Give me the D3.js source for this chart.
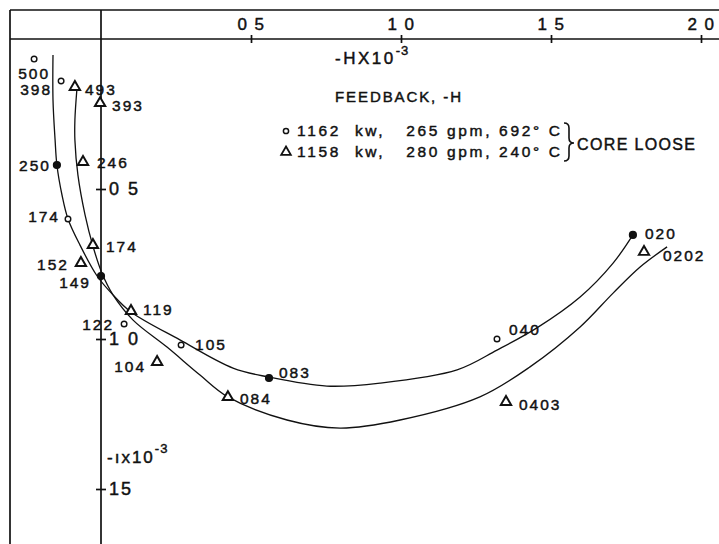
<!DOCTYPE html>
<html>
<head>
<meta charset="utf-8">
<script src="https://cdn.jsdelivr.net/npm/d3@7"></script>
<style>
  html, body { margin: 0; padding: 0; background: #fff; }
  svg { display: block; }
  text { font-family: "Liberation Sans", Arial, sans-serif; fill: #111; stroke: #111; stroke-width: 0.45px; white-space: pre; }
</style>
</head>
<body>
<svg id="chart" width="719" height="544"></svg>
<script>
// Real part of -H (x 10^-3) along the top axis, imaginary part downward.
const xTicks = [0.5, 1.0, 1.5, 2.0];
const xTickLabels = ["0 5", "1 0", "1 5", "2 0"];
const yTicks = [0.5, 1.0, 1.5];
const yTickLabels = ["0 5", "1 0", "15"];

// 1162 kw, 265 gpm, 692 C — measured points (label = frequency)
const loLabels = ["500", "398", "250", "174", "149", "122", "105", "083", "040", "020"];
const loRe = [-0.223, -0.133, -0.147, -0.110, 0.000, 0.077, 0.267, 0.560, 1.320, 1.773];
const loIm = [0.067, 0.140, 0.420, 0.600, 0.790, 0.950, 1.020, 1.130, 1.000, 0.653];

// 1158 kw, 280 gpm, 240 C — measured points
const hiLabels = ["493", "393", "246", "174", "152", "119", "104", "084", "0403", "0202"];
const hiRe = [-0.087, -0.003, -0.060, -0.027, -0.067, 0.100, 0.187, 0.423, 1.350, 1.810];
const hiIm = [0.163, 0.217, 0.413, 0.690, 0.750, 0.910, 1.080, 1.197, 1.213, 0.713];

// Faired curves drawn through each set of points
const loCurveRe = [-0.160, -0.160, -0.153, -0.147, -0.130, -0.110, -0.070, -0.013, 0.040, 0.100, 0.263, 0.440, 0.560, 0.753, 0.930, 1.187, 1.320, 1.453, 1.597, 1.707, 1.773];
const loCurveIm = [0.053, 0.203, 0.337, 0.420, 0.520, 0.600, 0.687, 0.790, 0.853, 0.910, 1.003, 1.097, 1.127, 1.157, 1.147, 1.103, 1.037, 0.963, 0.860, 0.747, 0.653];
const hiCurveRe = [-0.080, -0.087, -0.087, -0.077, -0.053, -0.027, 0.003, 0.040, 0.107, 0.220, 0.330, 0.423, 0.620, 0.797, 0.997, 1.263, 1.430, 1.597, 1.707, 1.797, 1.887];
const hiCurveIm = [0.163, 0.270, 0.337, 0.453, 0.587, 0.690, 0.780, 0.853, 0.937, 1.027, 1.120, 1.193, 1.270, 1.297, 1.270, 1.193, 1.093, 0.960, 0.847, 0.760, 0.693];

const legendRows = ["1162  kw,   265 gpm, 692° C", "1158  kw,   280 gpm, 240° C"];

// point-label offsets (px) relative to each marker: [dx, dy, anchor]
const loLabelPos = [[0, 14, "middle"], [-9, 8, "end"], [-6, 0, "end"], [-8, -3, "end"], [-10, 6, "end"], [-10, 0, "end"], [14, -1, "start"], [10, -6, "start"], [12, -10, "start"], [12, -2, "start"]];
const hiLabelPos = [[10, 1, "start"], [12, 1, "start"], [14, -1, "start"], [13, 0, "start"], [-12, 0, "end"], [12, -3, "start"], [-11, 3, "end"], [12, 0, "start"], [13, 1, "start"], [19, 2, "start"]];

const svg = d3.select("#chart");
const x = d3.scaleLinear().domain([0, 2]).range([101, 701]);
const y = d3.scaleLinear().domain([0, 1.5]).range([39, 489]);

const ink = "#111";

// frame: top rule, left rule, real axis, imaginary axis
svg.append("line").attr("x1", 10).attr("x2", 719).attr("y1", 10).attr("y2", 10).attr("stroke", ink).attr("stroke-width", 1.7);
svg.append("line").attr("x1", 10).attr("x2", 10).attr("y1", 10).attr("y2", 544).attr("stroke", ink).attr("stroke-width", 1.7);
svg.append("line").attr("x1", 10).attr("x2", 719).attr("y1", y(0)).attr("y2", y(0)).attr("stroke", ink).attr("stroke-width", 1.7);
svg.append("line").attr("x1", x(0)).attr("x2", x(0)).attr("y1", 10).attr("y2", 544).attr("stroke", ink).attr("stroke-width", 1.7);

// top axis ticks and labels
const xAxis = d3.axisTop(x).tickValues(xTicks).tickFormat((d, i) => xTickLabels[i]).tickSize(4).tickPadding(5);
const gx = svg.append("g").attr("transform", `translate(0,${y(0)})`).call(xAxis);
gx.select(".domain").remove();
gx.selectAll(".tick line").attr("y1", 4).attr("y2", -4).attr("stroke", ink).attr("stroke-width", 1.7);
gx.selectAll(".tick text").attr("font-size", 17).attr("letter-spacing", 1.5).attr("fill", ink)
  .style("font-family", "'Liberation Sans', Arial, sans-serif");

// imaginary axis ticks and labels
const yAxis = d3.axisRight(y).tickValues(yTicks).tickFormat((d, i) => yTickLabels[i]).tickSize(5).tickPadding(3);
const gy = svg.append("g").attr("transform", `translate(${x(0)},0)`).call(yAxis);
gy.select(".domain").remove();
gy.selectAll(".tick line").attr("x1", -5).attr("x2", 5).attr("stroke", ink).attr("stroke-width", 1.7);
gy.selectAll(".tick text").attr("font-size", 18).attr("letter-spacing", 2).attr("fill", ink)
  .style("font-family", "'Liberation Sans', Arial, sans-serif");

// axis titles
const tx = svg.append("text").attr("x", 335).attr("y", 64).attr("font-size", 17).attr("letter-spacing", 2.5);
tx.append("tspan").text("-HX10");
tx.append("tspan").attr("dy", -9).attr("font-size", 13).attr("letter-spacing", 1).text("-3");

const ty = svg.append("text").attr("x", 107).attr("y", 463).attr("font-size", 17).attr("letter-spacing", 2);
ty.append("tspan").text("-ıx10");
ty.append("tspan").attr("dy", -10).attr("font-size", 13).attr("letter-spacing", 1).text("-3");

// legend
svg.append("text").attr("x", 335).attr("y", 102).attr("font-size", 15).attr("textLength", 126).attr("lengthAdjust", "spacing").text("FEEDBACK, -H");
legendRows.forEach((t, i) => {
  svg.append("text").attr("x", 297).attr("y", 136 + i * 21).attr("font-size", 15.5)
    .attr("textLength", 263).attr("lengthAdjust", "spacing").text(t);
});
svg.append("circle").attr("cx", 286).attr("cy", 131).attr("r", 2.6).attr("fill", "#fff").attr("stroke", ink).attr("stroke-width", 1.5);
svg.append("path").attr("d", d3.symbol(d3.symbolTriangle, 40)()).attr("transform", "translate(286,152)")
  .attr("fill", "#fff").attr("stroke", ink).attr("stroke-width", 1.8);
// brace grouping the two runs
svg.append("path").attr("d", "M564,123 Q569,123 569,128 L569,138 Q569,143 574,143 Q569,143 569,148 L569,156 Q569,161 564,161")
  .attr("fill", "none").attr("stroke", ink).attr("stroke-width", 1.6);
svg.append("text").attr("x", 577).attr("y", 150).attr("font-size", 16).attr("textLength", 118).attr("lengthAdjust", "spacing").text("CORE LOOSE");

// faired curves
const line = d3.line().x(d => x(d[0])).y(d => y(d[1])).curve(d3.curveCatmullRom.alpha(0.5));
svg.append("path").datum(loCurveRe.map((r, i) => [r, loCurveIm[i]])).attr("d", line)
  .attr("fill", "none").attr("stroke", ink).attr("stroke-width", 1.3);
svg.append("path").datum(hiCurveRe.map((r, i) => [r, hiCurveIm[i]])).attr("d", line)
  .attr("fill", "none").attr("stroke", ink).attr("stroke-width", 1.3);

// measured points
const solidDots = new Set(["250", "149", "083", "020"]);
const lo = loLabels.map((l, i) => ({ label: l, re: loRe[i], im: loIm[i], pos: loLabelPos[i] }));
const hi = hiLabels.map((l, i) => ({ label: l, re: hiRe[i], im: hiIm[i], pos: hiLabelPos[i] }));

svg.selectAll("circle.lo").data(lo).join("circle").attr("class", "lo")
  .attr("cx", d => x(d.re)).attr("cy", d => y(d.im))
  .attr("r", d => solidDots.has(d.label) ? 3.4 : 2.8)
  .attr("fill", d => solidDots.has(d.label) ? ink : "#fff")
  .attr("stroke", ink).attr("stroke-width", 1.4);

svg.selectAll("path.hi").data(hi).join("path").attr("class", "hi")
  .attr("d", d3.symbol(d3.symbolTriangle, 46)())
  .attr("transform", d => `translate(${x(d.re)},${y(d.im) - 1})`)
  .attr("fill", "#fff").attr("stroke", ink).attr("stroke-width", 2);

const labelFont = "'Liberation Sans', Arial, sans-serif";
[lo, hi].forEach(set => {
  svg.selectAll(null).data(set).join("text")
    .attr("x", d => x(d.re) + d.pos[0]).attr("y", d => y(d.im) + d.pos[1] + 6)
    .attr("text-anchor", d => d.pos[2])
    .attr("font-size", 15.5).attr("letter-spacing", 2)
    .style("font-family", labelFont)
    .text(d => d.label);
});
</script>
</body>
</html>
